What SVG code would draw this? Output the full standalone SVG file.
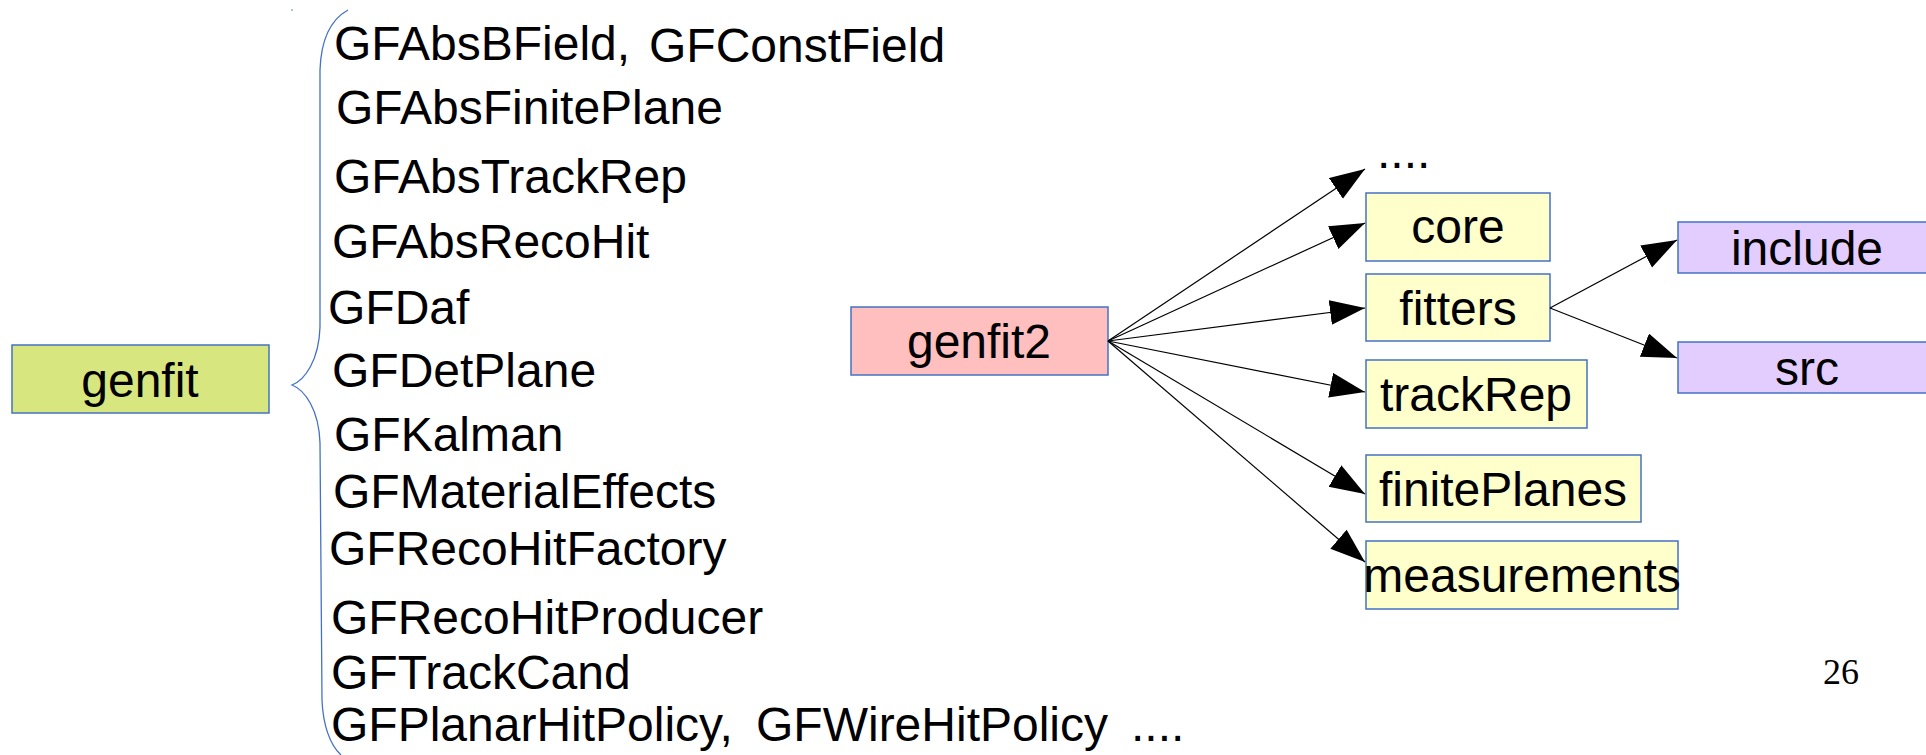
<svg xmlns="http://www.w3.org/2000/svg" width="1926" height="755" viewBox="0 0 1926 755">
  <style>
    .t { font-family: "Liberation Sans", Arial, sans-serif; font-size: 48px; fill: #000; }
    .c { text-anchor: middle; }
    .box { stroke: #4472c4; stroke-width: 1.5; }
    .g1 { fill: #d7e67f; }
    .g2 { fill: #ffbfbf; }
    .dir { fill: #ffffcc; }
    .sub { fill: #e3ccfe; }
    .edge { stroke: #000; stroke-width: 1.2; fill: none; marker-end: url(#arrow); }
    .num { font-family: "Liberation Serif", "Times New Roman", serif; font-size: 36px; fill: #000; }
  </style>
  <defs>
    <marker id="arrow" markerUnits="userSpaceOnUse" markerWidth="38" markerHeight="28" refX="35" refY="12.5" orient="auto">
      <path d="M0,0 L35,12.5 L0,25 z" fill="#000"/>
    </marker>
  </defs>
  <rect width="1926" height="755" fill="#fff"/>

  <!-- old package -->
  <g id="genfit">
    <rect class="box g1" x="12" y="345" width="257" height="68"/>
    <text class="t c" x="140" y="397">genfit</text>
  </g>

  <!-- curly brace grouping the class list -->
  <g id="brace">
    <path d="M348,10 C330,20 321,40 320,70 L320,327 C319,360 305,380 292,385 C305,390 319,410 320,443 L322,700 C323,725 330,745 341,755" fill="none" stroke="#4472c4" stroke-width="1.3"/>
    <circle cx="292" cy="10" r="0.8" fill="#4472c4"/>
  </g>

  <!-- class list -->
  <g id="classes">
    <text class="t" x="334" y="60">GFAbsBField,</text>
    <text class="t" x="649" y="62">GFConstField</text>
    <text class="t" x="336" y="124">GFAbsFinitePlane</text>
    <text class="t" x="334" y="193">GFAbsTrackRep</text>
    <text class="t" x="332" y="258">GFAbsRecoHit</text>
    <text class="t" x="328" y="324">GFDaf</text>
    <text class="t" x="332" y="387">GFDetPlane</text>
    <text class="t" x="334" y="451">GFKalman</text>
    <text class="t" x="333" y="508">GFMaterialEffects</text>
    <text class="t" x="329" y="565">GFRecoHitFactory</text>
    <text class="t" x="331" y="634">GFRecoHitProducer</text>
    <text class="t" x="331" y="689">GFTrackCand</text>
    <text class="t" x="331" y="741">GFPlanarHitPolicy,</text>
    <text class="t" x="756" y="741">GFWireHitPolicy</text>
    <text class="t" x="1131" y="741">....</text>
  </g>

  <!-- new package -->
  <g id="genfit2">
    <rect class="box g2" x="851" y="307" width="257" height="68"/>
    <text class="t c" x="979" y="358">genfit2</text>
  </g>

  <g id="more">
    <text class="t" x="1377" y="168">....</text>
  </g>
  <g id="core">
    <rect class="box dir" x="1366" y="193" width="184" height="68"/>
    <text class="t c" x="1458" y="243">core</text>
  </g>
  <g id="fitters">
    <rect class="box dir" x="1366" y="274" width="184" height="67"/>
    <text class="t c" x="1458" y="325">fitters</text>
  </g>
  <g id="trackRep">
    <rect class="box dir" x="1366" y="360" width="221" height="68"/>
    <text class="t c" x="1476" y="411">trackRep</text>
  </g>
  <g id="finitePlanes">
    <rect class="box dir" x="1366" y="455" width="275" height="67"/>
    <text class="t c" x="1503" y="506">finitePlanes</text>
  </g>
  <g id="measurements">
    <rect class="box dir" x="1366" y="541" width="312" height="68"/>
    <text class="t c" x="1522" y="592">measurements</text>
  </g>

  <g id="include">
    <rect class="box sub" x="1678" y="222" width="260" height="51"/>
    <text class="t c" x="1807" y="265">include</text>
  </g>
  <g id="src">
    <rect class="box sub" x="1678" y="342" width="260" height="51"/>
    <text class="t c" x="1807" y="385">src</text>
  </g>

  <!-- connectors -->
  <g id="connectors">
    <line class="edge" x1="1108" y1="341" x2="1365" y2="169"/>
    <line class="edge" x1="1108" y1="341" x2="1365" y2="223"/>
    <line class="edge" x1="1108" y1="341" x2="1365" y2="308"/>
    <line class="edge" x1="1108" y1="341" x2="1365" y2="392"/>
    <line class="edge" x1="1108" y1="341" x2="1365" y2="494"/>
    <line class="edge" x1="1108" y1="341" x2="1365" y2="562"/>
    <line class="edge" x1="1550" y1="308" x2="1677" y2="240"/>
    <line class="edge" x1="1550" y1="308" x2="1677" y2="358"/>
  </g>

  <text class="num" x="1823" y="684">26</text>
</svg>
